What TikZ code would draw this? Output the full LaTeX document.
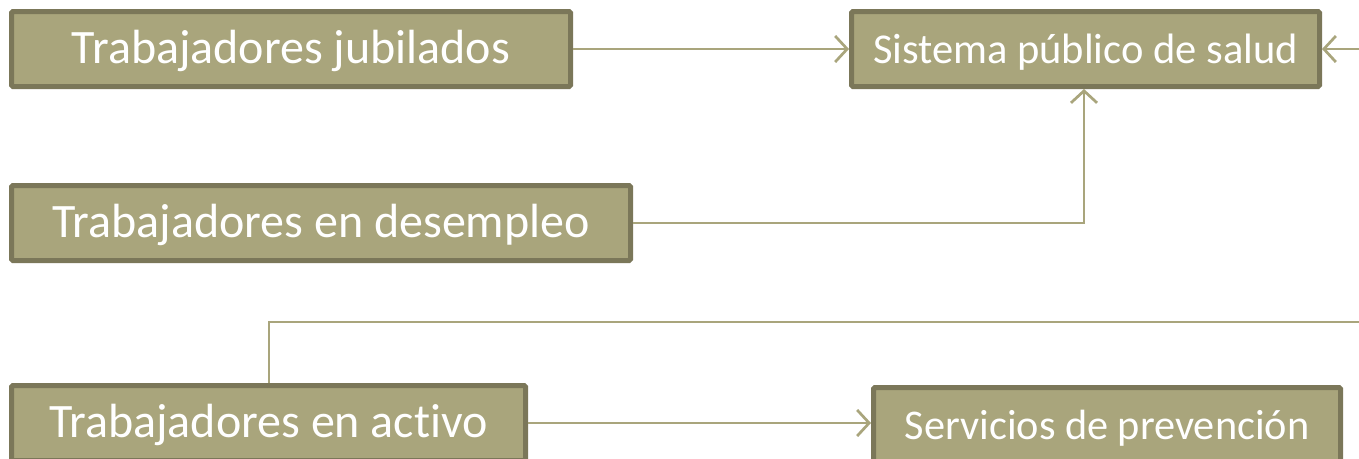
\documentclass[tikz,border=0pt]{standalone}
\usepackage{fontspec}
\setmainfont{Carlito}[Ligatures={NoCommon}]
\usetikzlibrary{arrows.meta}
\definecolor{boxfill}{HTML}{A9A57C}
\definecolor{boxdraw}{HTML}{7B7759}
\definecolor{linkcol}{HTML}{A9A57C}
\tikzset{
  box/.style={draw=boxdraw, fill=boxfill, line width=5pt, rounded corners=1.5pt,
    inner sep=0pt, minimum height=75pt, text=white, anchor=center,
    text height=36pt, text depth=8pt},
  smallbox/.style={box, text height=34pt, text depth=5pt},
  link/.style={draw=linkcol, line width=2.7pt},
  tip/.style={-{Straight Barb[length=12pt,width=26pt,line width=2.7pt]}}
}
\begin{document}
\begin{tikzpicture}[x=1pt,y=-1pt]
\clip (0,0) rectangle (1359,458);
\fill[white] (0,0) rectangle (1359,458);
\node[box, minimum width=559pt, font=\fontsize{48}{54}\selectfont] (jub) at (291,49) {Trabajadores jubilados};
\node[smallbox, minimum width=468pt, font=\fontsize{42.5}{48}\selectfont] (sis) at (1085.5,49) {Sistema público de salud};
\node[box, minimum width=619pt, font=\fontsize{48}{54}\selectfont] (des) at (321,223) {Trabajadores en desempleo};
\node[box, minimum width=514pt, font=\fontsize{48}{54}\selectfont] (act) at (268.5,423) {Trabajadores en activo};
\node[smallbox, minimum width=467pt, font=\fontsize{42.3}{48}\selectfont] (ser) at (1107,425) {Servicios de prevención};
\coordinate (c1) at (269,322);
\coordinate (c2) at (1400,322);
\coordinate (c3) at (1400,49);
\draw[link,tip] (jub.east) -- (sis.west);
\draw[link,tip] (des.east) -| ([xshift=-1.5pt]sis.south);
\draw[link,tip] (act.north -| c1) -- (c1) -- (c2) -- (c3) -- (sis.east);
\draw[link,tip] (act.east) -- (act.east -| ser.west);
\end{tikzpicture}
\end{document}
